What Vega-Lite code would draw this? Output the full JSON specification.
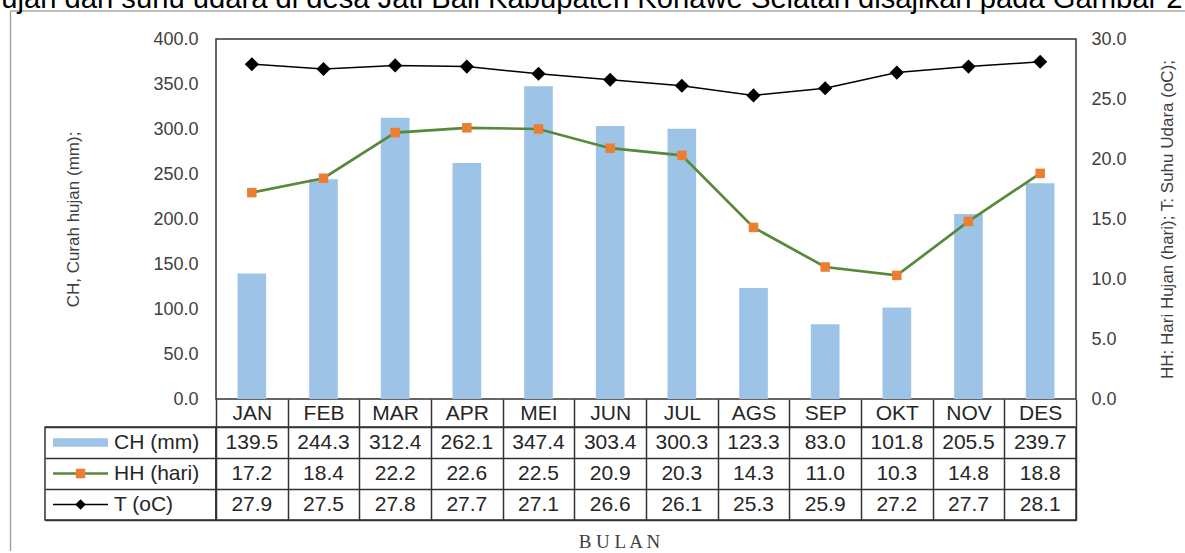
{
  "$schema": "https://vega.github.io/schema/vega-lite/v6.json",
  "padding": {"left": -16, "top": -15, "right": 0, "bottom": 4},
  "title": {
    "text": "hujan dan suhu udara di desa Jati Bali Kabupaten Konawe Selatan disajikan pada Gambar 2",
    "anchor": "start",
    "frame": "bounds",
    "dx": -24.85,
    "offset": -27,
    "baseline": "alphabetic",
    "font": "Liberation Sans",
    "fontSize": 29.2,
    "fontWeight": "normal",
    "color": "#000000"
  },
  "datasets": {
    "iklim": [
      {"bulan": "JAN", "CH": 139.5, "HH": 17.2, "T": 27.9},
      {"bulan": "FEB", "CH": 244.3, "HH": 18.4, "T": 27.5},
      {"bulan": "MAR", "CH": 312.4, "HH": 22.2, "T": 27.8},
      {"bulan": "APR", "CH": 262.1, "HH": 22.6, "T": 27.7},
      {"bulan": "MEI", "CH": 347.4, "HH": 22.5, "T": 27.1},
      {"bulan": "JUN", "CH": 303.4, "HH": 20.9, "T": 26.6},
      {"bulan": "JUL", "CH": 300.3, "HH": 20.3, "T": 26.1},
      {"bulan": "AGS", "CH": 123.3, "HH": 14.3, "T": 25.3},
      {"bulan": "SEP", "CH": 83.0, "HH": 11.0, "T": 25.9},
      {"bulan": "OKT", "CH": 101.8, "HH": 10.3, "T": 27.2},
      {"bulan": "NOV", "CH": 205.5, "HH": 14.8, "T": 27.7},
      {"bulan": "DES", "CH": 239.7, "HH": 18.8, "T": 28.1}
    ],
    "seri": [
      {"key": "CH", "nama": "CH (mm)"},
      {"key": "HH", "nama": "HH (hari)"},
      {"key": "T", "nama": "T (oC)"}
    ]
  },
  "columns": 2,
  "bounds": "flush",
  "spacing": {"row": 28, "column": 0},
  "concat": [
    {
      "width": 171,
      "height": 360,
      "data": {"values": [{}]},
      "view": {"stroke": null},
      "layer": [
        {
          "mark": {"type": "rule", "color": "#9a9a9a", "strokeWidth": 1.3},
          "encoding": {
            "x": {"datum": -0.2018, "type": "quantitative", "scale": {"domain": [0, 1], "nice": false, "zero": false}, "axis": null},
            "y": {"datum": 1.0778, "type": "quantitative", "scale": {"domain": [0, 1], "nice": false, "zero": false}, "axis": null},
            "y2": {"datum": -0.4222}
          }
        },
        {
          "mark": {"type": "rule", "color": "#a8a8a8", "strokeWidth": 1.3},
          "encoding": {
            "x": {"datum": -0.2018, "type": "quantitative", "scale": {"domain": [0, 1], "nice": false, "zero": false}, "axis": null},
            "x2": {"datum": 6.672},
            "y": {"datum": 1.0778, "type": "quantitative", "scale": {"domain": [0, 1], "nice": false, "zero": false}, "axis": null}
          }
        }
      ]
    },
    {
      "width": 860,
      "height": 360,
      "data": {"name": "iklim"},
      "encoding": {
        "x": {
          "field": "bulan",
          "type": "nominal",
          "sort": null,
          "scale": {"type": "band", "paddingInner": 0, "paddingOuter": 0},
          "axis": {
            "title": null,
            "orient": "bottom",
            "domain": false,
            "grid": false,
            "ticks": true,
            "tickBand": "extent",
            "tickSize": 28,
            "tickColor": "#333333",
            "tickWidth": 1.5,
            "labelAngle": 0,
            "labelPadding": -14,
            "labelBaseline": "middle",
            "labelFontSize": 21,
            "labelColor": "#262626"
          }
        }
      },
      "layer": [
        {
          "mark": {"type": "bar", "color": "#9DC3E6", "width": {"band": 0.4}},
          "encoding": {
            "y": {
              "field": "CH",
              "type": "quantitative",
              "scale": {"domain": [0, 400], "nice": false},
              "axis": {
                "orient": "left",
                "title": "CH, Curah hujan (mm);",
                "values": [0, 50, 100, 150, 200, 250, 300, 350, 400],
                "format": ".1f",
                "grid": false,
                "ticks": false,
                "domain": false,
                "labelPadding": 18,
                "labelFontSize": 18,
                "labelColor": "#404040",
                "titleFontSize": 17,
                "titleFontWeight": "normal",
                "titleColor": "#404040",
                "titlePadding": 70
              }
            }
          }
        },
        {
          "layer": [
            {
              "mark": {"type": "line", "color": "#568A3A", "strokeWidth": 2.7},
              "encoding": {
                "y": {
                  "field": "HH",
                  "type": "quantitative",
                  "scale": {"domain": [0, 30], "nice": false},
                  "axis": {
                    "orient": "right",
                    "title": "HH: Hari Hujan (hari); T: Suhu Udara (oC);",
                    "values": [0, 5, 10, 15, 20, 25, 30],
                    "format": ".1f",
                    "grid": false,
                    "ticks": false,
                    "domain": false,
                    "labelPadding": 15,
                    "labelFontSize": 18,
                    "labelColor": "#404040",
                    "titleFontSize": 17,
                    "titleFontWeight": "normal",
                    "titleColor": "#404040",
                    "titleAngle": 270,
                    "titleBaseline": "top",
                    "titlePadding": 33
                  }
                }
              }
            },
            {
              "mark": {"type": "point", "shape": "square", "filled": true, "color": "#ED7D31", "size": 90, "opacity": 1},
              "encoding": {
                "y": {
                  "field": "HH",
                  "type": "quantitative",
                  "scale": {"domain": [0, 30], "nice": false},
                  "axis": {
                    "orient": "right",
                    "title": "HH: Hari Hujan (hari); T: Suhu Udara (oC);",
                    "values": [0, 5, 10, 15, 20, 25, 30],
                    "format": ".1f",
                    "grid": false,
                    "ticks": false,
                    "domain": false,
                    "labelPadding": 15,
                    "labelFontSize": 18,
                    "labelColor": "#404040",
                    "titleFontSize": 17,
                    "titleFontWeight": "normal",
                    "titleColor": "#404040",
                    "titleAngle": 270,
                    "titleBaseline": "top",
                    "titlePadding": 33
                  }
                }
              }
            },
            {
              "mark": {"type": "line", "color": "#000000", "strokeWidth": 1.5},
              "encoding": {
                "y": {
                  "field": "T",
                  "type": "quantitative",
                  "scale": {"domain": [0, 30], "nice": false},
                  "axis": {
                    "orient": "right",
                    "title": "HH: Hari Hujan (hari); T: Suhu Udara (oC);",
                    "values": [0, 5, 10, 15, 20, 25, 30],
                    "format": ".1f",
                    "grid": false,
                    "ticks": false,
                    "domain": false,
                    "labelPadding": 15,
                    "labelFontSize": 18,
                    "labelColor": "#404040",
                    "titleFontSize": 17,
                    "titleFontWeight": "normal",
                    "titleColor": "#404040",
                    "titleAngle": 270,
                    "titleBaseline": "top",
                    "titlePadding": 33
                  }
                }
              }
            },
            {
              "mark": {"type": "point", "shape": "diamond", "filled": true, "color": "#000000", "size": 200, "opacity": 1},
              "encoding": {
                "y": {
                  "field": "T",
                  "type": "quantitative",
                  "scale": {"domain": [0, 30], "nice": false},
                  "axis": {
                    "orient": "right",
                    "title": "HH: Hari Hujan (hari); T: Suhu Udara (oC);",
                    "values": [0, 5, 10, 15, 20, 25, 30],
                    "format": ".1f",
                    "grid": false,
                    "ticks": false,
                    "domain": false,
                    "labelPadding": 15,
                    "labelFontSize": 18,
                    "labelColor": "#404040",
                    "titleFontSize": 17,
                    "titleFontWeight": "normal",
                    "titleColor": "#404040",
                    "titleAngle": 270,
                    "titleBaseline": "top",
                    "titlePadding": 33
                  }
                }
              }
            }
          ]
        }
      ],
      "resolve": {"scale": {"y": "independent"}}
    },
    {
      "width": 171,
      "height": 93,
      "data": {"name": "seri"},
      "encoding": {
        "y": {
          "field": "key",
          "type": "nominal",
          "scale": {"type": "band", "domain": ["CH", "HH", "T"], "paddingInner": 0, "paddingOuter": 0},
          "axis": {
            "title": null,
            "labels": false,
            "ticks": false,
            "domain": false,
            "grid": true,
            "tickBand": "extent",
            "gridColor": "#333333",
            "gridWidth": 1.5,
            "gridOpacity": 1
          }
        }
      },
      "layer": [
        {
          "transform": [{"filter": "datum.key == 'CH'"}],
          "mark": {"type": "rule", "color": "#9DC3E6", "strokeWidth": 8.3, "strokeCap": "butt"},
          "encoding": {
            "x": {"datum": 0.0468, "type": "quantitative", "scale": {"domain": [0, 1], "nice": false, "zero": false}, "axis": null},
            "x2": {"datum": 0.3684}
          }
        },
        {
          "transform": [{"filter": "datum.key == 'HH'"}],
          "mark": {"type": "rule", "color": "#568A3A", "strokeWidth": 2.5, "strokeCap": "butt"},
          "encoding": {
            "x": {"datum": 0.0468, "type": "quantitative", "scale": {"domain": [0, 1], "nice": false, "zero": false}, "axis": null},
            "x2": {"datum": 0.3684}
          }
        },
        {
          "transform": [{"filter": "datum.key == 'HH'"}],
          "mark": {"type": "point", "shape": "square", "filled": true, "color": "#ED7D31", "size": 90, "opacity": 1},
          "encoding": {
            "x": {"datum": 0.2076, "type": "quantitative", "scale": {"domain": [0, 1], "nice": false, "zero": false}, "axis": null}
          }
        },
        {
          "transform": [{"filter": "datum.key == 'T'"}],
          "mark": {"type": "rule", "color": "#000000", "strokeWidth": 1.4, "strokeCap": "butt"},
          "encoding": {
            "x": {"datum": 0.0468, "type": "quantitative", "scale": {"domain": [0, 1], "nice": false, "zero": false}, "axis": null},
            "x2": {"datum": 0.3684}
          }
        },
        {
          "transform": [{"filter": "datum.key == 'T'"}],
          "mark": {"type": "point", "shape": "diamond", "filled": true, "color": "#000000", "size": 110, "opacity": 1},
          "encoding": {
            "x": {"datum": 0.2076, "type": "quantitative", "scale": {"domain": [0, 1], "nice": false, "zero": false}, "axis": null}
          }
        },
        {
          "mark": {"type": "text", "align": "left", "baseline": "middle", "font": "Liberation Sans", "fontSize": 21, "color": "#262626"},
          "encoding": {
            "x": {"datum": 0.4035, "type": "quantitative", "scale": {"domain": [0, 1], "nice": false, "zero": false}, "axis": null},
            "text": {"field": "nama", "type": "nominal"}
          }
        }
      ]
    },
    {
      "width": 860,
      "height": 93,
      "data": {"name": "iklim"},
      "transform": [{"fold": ["CH", "HH", "T"], "as": ["key", "val"]}],
      "mark": {"type": "text", "font": "Liberation Sans", "fontSize": 21, "color": "#262626"},
      "encoding": {
        "x": {
          "field": "bulan",
          "type": "nominal",
          "sort": null,
          "scale": {"type": "band", "paddingInner": 0, "paddingOuter": 0},
          "axis": {
            "title": "B U L A N",
            "labels": false,
            "ticks": false,
            "domain": false,
            "grid": true,
            "tickBand": "extent",
            "gridColor": "#333333",
            "gridWidth": 1.5,
            "gridOpacity": 1,
            "titleFont": "Liberation Serif",
            "titleFontSize": 19,
            "titleFontWeight": "normal",
            "titleColor": "#404040",
            "titlePadding": 12,
            "titleX": 403,
            "titleAlign": "center"
          }
        },
        "y": {
          "field": "key",
          "type": "nominal",
          "scale": {"type": "band", "domain": ["CH", "HH", "T"], "paddingInner": 0, "paddingOuter": 0},
          "axis": {
            "title": null,
            "labels": false,
            "ticks": false,
            "domain": false,
            "grid": true,
            "tickBand": "extent",
            "gridColor": "#333333",
            "gridWidth": 1.5,
            "gridOpacity": 1
          }
        },
        "text": {"field": "val", "type": "quantitative", "format": ".1f"}
      }
    }
  ],
  "config": {
    "font": "Liberation Sans",
    "view": {"stroke": "#333333", "strokeWidth": 1.5},
    "axis": {"labelFont": "Liberation Sans", "titleFont": "Liberation Sans"}
  }
}
